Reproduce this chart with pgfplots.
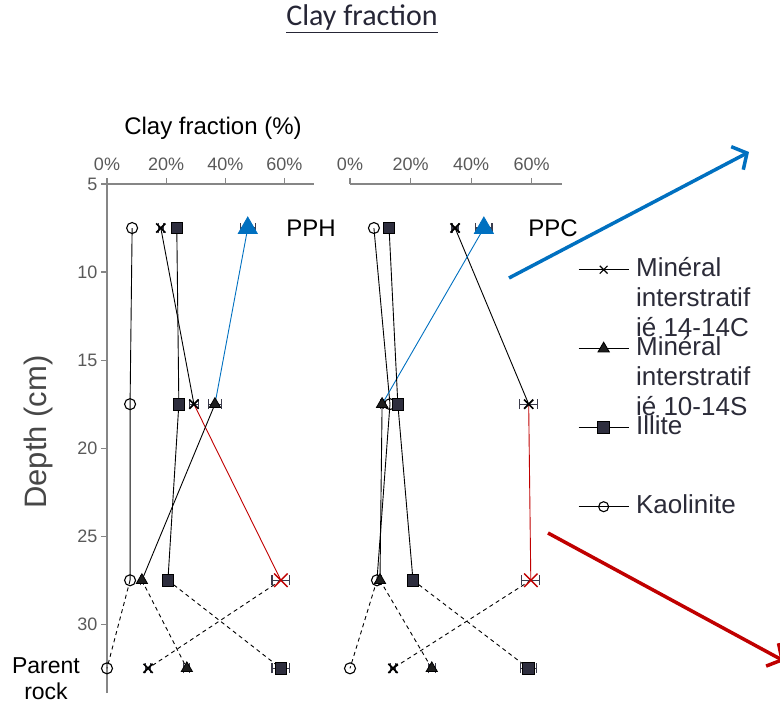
\documentclass[border=0pt]{standalone}
\usepackage{pgfplots}
\pgfplotsset{compat=1.18}
\usepackage{fontspec}
\setmainfont{Liberation Sans}
\newfontfamily\calibri{Carlito}
\usetikzlibrary{arrows.meta}
\definecolor{axisgray}{HTML}{868686}
\definecolor{ticktext}{HTML}{595959}
\definecolor{legtext}{HTML}{2B2B38}
\definecolor{sqfill}{HTML}{2E2E3E}
\definecolor{trifill}{HTML}{1E1E1E}
\definecolor{ebar}{HTML}{3C3C4C}
\definecolor{xblue}{HTML}{0070C0}
\definecolor{xred}{HTML}{C00000}
\definecolor{titlec}{HTML}{262636}

\newcommand{\legtext}[1]{\smash{\raisebox{-8pt}{\parbox[t]{4.5cm}{\raggedright #1}}}}
\newcommand{\legA}{\legtext{Minéral\\interstratif\\ié 14-14C}}
\newcommand{\legB}{\legtext{Minéral\\interstratif\\ié 10-14S}}
\newcommand{\legC}{\legtext{Illite}}
\newcommand{\legD}{\legtext{Kaolinite}}

\pgfplotsset{
  panel/.style={
    scale only axis, clip=false,
    height=509pt,
    xmin=0, xmax=70, ymin=-33.9, ymax=-5,
    axis x line*=top,
    xtick={0,20,40,60}, xticklabels={\mbox{0\%},\mbox{20\%},\mbox{40\%},\mbox{60\%}},
    tick align=outside,
    axis line style={axisgray, line width=1.2pt},
    every tick/.style={axisgray, line width=1.2pt},
    major tick length=6pt,
    tick label style={font=\fontsize{18}{21}\selectfont, text=ticktext},
    xticklabel style={yshift=4pt},
  },
  seg/.style={black, line width=0.9pt, mark=none, forget plot},
  bseg/.style={xblue, line width=0.9pt, mark=none, forget plot},
  rseg/.style={xred, line width=0.9pt, mark=none, forget plot},
  dseg/.style={black, line width=0.9pt, mark=none, dash pattern=on 4pt off 3.5pt, forget plot},
  ebars/.style={forget plot, error bars/.cd, x dir=both, x explicit,
    error bar style={ebar, line width=1.2pt},
    error mark=|, error mark options={ebar, line width=1.2pt, mark size=5pt}},
  kmark/.style={forget plot, only marks, mark=o, mark size=5.5pt, mark options={black, line width=1.1pt}},
  xmark/.style={only marks, mark=x, mark size=6.5pt, mark options={black, line width=1.7pt}, ebars},
  rxmark/.style={only marks, mark=x, mark size=9.5pt, mark options={xred, line width=1.4pt}, ebars},
  tmark/.style={only marks, mark=triangle*, mark size=6.5pt, mark options={black, fill=trifill, line width=0.8pt}, ebars},
  btmark/.style={only marks, mark=triangle*, mark size=11pt, mark options={xblue, fill=xblue, line width=0.8pt}, ebars},
  smark/.style={only marks, mark=square*, mark size=5.8pt, mark options={black, fill=sqfill, line width=0.8pt}, ebars},
}

\begin{document}
\begin{tikzpicture}
\useasboundingbox (0pt,0pt) rectangle (780pt,-706pt);

% ---------------- Left panel: PPH ----------------
\begin{axis}[panel,
  at={(107pt,-184pt)}, anchor=north west, width=207pt,
  axis y line*=left,
  ytick={-30,-25,-20,-15,-10,-5}, yticklabels={\mbox{30},\mbox{25},\mbox{20},\mbox{15},\mbox{10},\mbox{5}},
]
% Kaolinite
\addplot[seg] coordinates {(8.5,-7.5) (7.8,-17.5) (7.8,-27.5)};
\addplot[dseg] coordinates {(7.8,-27.5) (0,-32.5)};
% Mineral 14-14C
\addplot[seg] coordinates {(18.2,-7.5) (29.4,-17.5)};
\addplot[rseg] coordinates {(29.4,-17.5) (58.8,-27.5)};
\addplot[dseg] coordinates {(58.8,-27.5) (13.9,-32.5)};
% Mineral 10-14S
\addplot[bseg] coordinates {(47.6,-7.5) (36.5,-17.5)};
\addplot[seg] coordinates {(36.5,-17.5) (11.8,-27.5)};
\addplot[dseg] coordinates {(11.8,-27.5) (27.0,-32.5)};
% Illite
\addplot[seg] coordinates {(23.6,-7.5) (24.3,-17.5) (20.6,-27.5)};
\addplot[dseg] coordinates {(20.6,-27.5) (58.8,-32.5)};
% marks
\addplot[kmark] coordinates {(8.5,-7.5) (7.8,-17.5) (7.8,-27.5) (0,-32.5)};
\addplot[smark] coordinates {(23.6,-7.5) +- (0.5,0) (24.3,-17.5) +- (1,0) (20.6,-27.5) +- (0.5,0) (58.8,-32.5) +- (3,0)};
\addplot[tmark] coordinates {(36.5,-17.5) +- (2.2,0) (11.8,-27.5) +- (0.5,0) (27.0,-32.5) +- (1,0)};
\addplot[xmark] coordinates {(18.2,-7.5) +- (0.8,0) (29.4,-17.5) +- (1.5,0) (13.9,-32.5) +- (0.8,0)};
\addplot[rxmark] coordinates {(58.8,-27.5) +- (3,0)};
\addplot[btmark] coordinates {(47.6,-7.5) +- (2.5,0)};
\end{axis}

% ---------------- Right panel: PPC ----------------
\begin{axis}[panel,
  at={(350pt,-184pt)}, anchor=north west, width=212pt,
  axis y line=none,
  legend cell align=left,
  legend image code/.code={\path[draw=none, fill=none] (0pt,-39.5pt) rectangle (50pt,39.5pt); \draw[mark repeat=2,mark phase=2,#1] plot coordinates {(0pt,0pt) (25pt,0pt) (50pt,0pt)};},
  legend style={at={(1.0755,0.9096)}, anchor=north west, draw=none, fill=none,
    inner sep=0pt, nodes={inner sep=0pt}, column sep=7pt, row sep=0pt,
    font=\fontsize{26}{30}\selectfont, text=legtext},
]
\addlegendimage{black, line width=0.9pt, mark=x, mark size=5.5pt, mark options={line width=1.2pt}}
\addlegendentry{\legA}
\addlegendimage{black, line width=0.9pt, mark=triangle*, mark size=6.5pt, mark options={fill=trifill}}
\addlegendentry{\legB}
\addlegendimage{black, line width=0.9pt, mark=square*, mark size=6pt, mark options={fill=sqfill}}
\addlegendentry{\legC}
\addlegendimage{black, line width=0.9pt, mark=o, mark size=5pt, mark options={line width=1.1pt}}
\addlegendentry{\legD}
% Kaolinite
\addplot[seg] coordinates {(7.9,-7.5) (13.2,-17.5) (8.9,-27.5)};
\addplot[dseg] coordinates {(8.9,-27.5) (0,-32.5)};
% Mineral 14-14C
\addplot[seg] coordinates {(34.7,-7.5) (59.0,-17.5)};
\addplot[rseg] coordinates {(59.0,-17.5) (59.7,-27.5)};
\addplot[dseg] coordinates {(59.7,-27.5) (14.2,-32.5)};
% Mineral 10-14S
\addplot[bseg] coordinates {(44.2,-7.5) (10.6,-17.5)};
\addplot[seg] coordinates {(10.6,-17.5) (9.9,-27.5)};
\addplot[dseg] coordinates {(9.9,-27.5) (27.0,-32.5)};
% Illite
\addplot[seg] coordinates {(12.9,-7.5) (15.8,-17.5) (20.8,-27.5)};
\addplot[dseg] coordinates {(20.8,-27.5) (59.0,-32.5)};
% marks
\addplot[kmark] coordinates {(7.9,-7.5) (13.2,-17.5) (8.9,-27.5) (0,-32.5)};
\addplot[smark] coordinates {(12.9,-7.5) +- (0.5,0) (15.8,-17.5) +- (1,0) (20.8,-27.5) +- (0.5,0) (59.0,-32.5) +- (2.7,0)};
\addplot[tmark] coordinates {(10.6,-17.5) +- (0.5,0) (9.9,-27.5) +- (0.5,0) (27.0,-32.5) +- (1.2,0)};
\addplot[xmark] coordinates {(34.7,-7.5) +- (1,0) (59.0,-17.5) +- (3,0) (14.2,-32.5) +- (0.8,0)};
\addplot[rxmark] coordinates {(59.7,-27.5) +- (3,0)};
\addplot[btmark] coordinates {(44.2,-7.5) +- (2.7,0)};
\end{axis}

% ---------------- Annotations ----------------
\node[font=\calibri\fontsize{30}{36}\selectfont, text=titlec] at (362pt,-19pt) {\underline{Clay fraction}};
\node[font=\fontsize{24}{28}\selectfont] at (213pt,-128pt) {Clay fraction (\%)};
\node[font=\fontsize{24}{28}\selectfont] at (311pt,-228pt) {PPH};
\node[font=\fontsize{24}{28}\selectfont] at (553pt,-228pt) {PPC};
\node[font=\fontsize{31}{36}\selectfont, text=ticktext!80!black, rotate=90] at (38pt,-432pt) {Depth (cm)};
\node[font=\fontsize{23}{26}\selectfont, align=center] at (46pt,-679pt) {Parent\\rock};
\draw[xblue, line width=3.5pt, -{Straight Barb[length=11pt, width=26pt, line width=3.5pt]}] (509pt,-278pt) -- (749pt,-152pt);
\draw[xred, line width=3.5pt, -{Straight Barb[length=11pt, width=26pt, line width=3.5pt]}] (548pt,-533pt) -- (784pt,-661pt);
\end{tikzpicture}
\end{document}
